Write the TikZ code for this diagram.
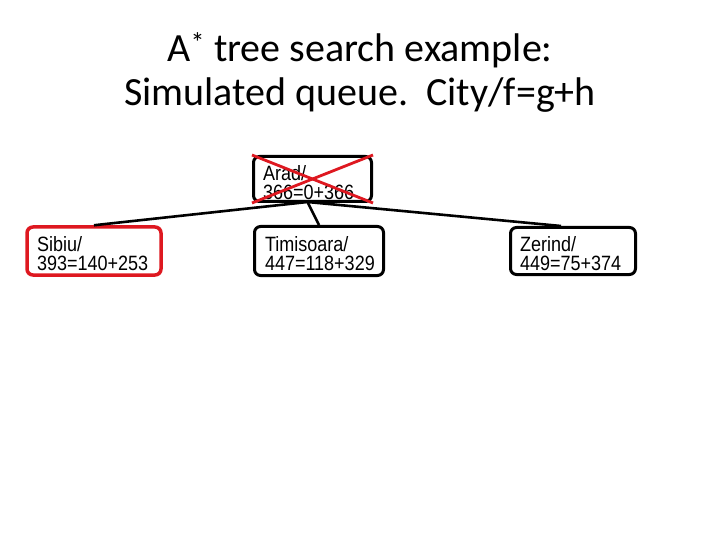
\documentclass[tikz,border=0pt]{standalone}
\usepackage{fontspec}
\usepackage{graphicx}
\setmainfont{Carlito}
\newfontfamily\nodefont{Liberation Sans}
\definecolor{crossred}{RGB}{222,24,32}
\newcommand{\tall}[1]{\scalebox{1}[1.15]{#1}}
\begin{document}
\begin{tikzpicture}[x=1pt,y=-1pt,
  citybox/.style={draw=black, line width=3pt, rounded corners=6pt, fill=white,
    inner sep=0pt, align=left, text depth=19pt, font=\nodefont\fontsize{18pt}{19pt}\selectfont},
  edge/.style={draw=black, line width=2.6pt},
  cross/.style={draw=crossred, line width=2.8pt}]
\useasboundingbox (0,0) rectangle (720,540);
\node[font=\fontsize{40pt}{44pt}\selectfont, align=center] (title) at (360,72.5)
  {A\textsuperscript{*} tree search example:\\Simulated queue.\ \ City/f=g+h};
\node[citybox, minimum width=118pt, minimum height=45pt, text width=99pt, text height=23pt] (arad) at (312.5,179)
  {\tall{Arad/}\\\tall{366=0+366}};
\node[citybox, draw=crossred, line width=3.5pt, minimum width=134pt, minimum height=48pt, text width=114pt, text height=20pt] (sibiu) at (94,251)
  {\tall{Sibiu/}\\\tall{393=140+253}};
\node[citybox, minimum width=129pt, minimum height=49pt, text width=108pt, text height=20pt] (timi) at (319,251)
  {\tall{Timisoara/}\\\tall{447=118+329}};
\node[citybox, minimum width=125pt, minimum height=47pt, text width=106pt, text height=20pt] (zer) at (573,251)
  {\tall{Zerind/}\\\tall{449=75+374}};
\coordinate (hub) at ([xshift=-5pt,yshift=1pt]arad.south);
\draw[edge] (hub) -- (sibiu.north);
\draw[edge] (hub) -- (timi.north);
\draw[edge] (hub) -- ([xshift=-12pt]zer.north);
\draw[cross] (arad.north west) -- (arad.south east);
\draw[cross] (arad.north east) -- (arad.south west);
\end{tikzpicture}
\end{document}
